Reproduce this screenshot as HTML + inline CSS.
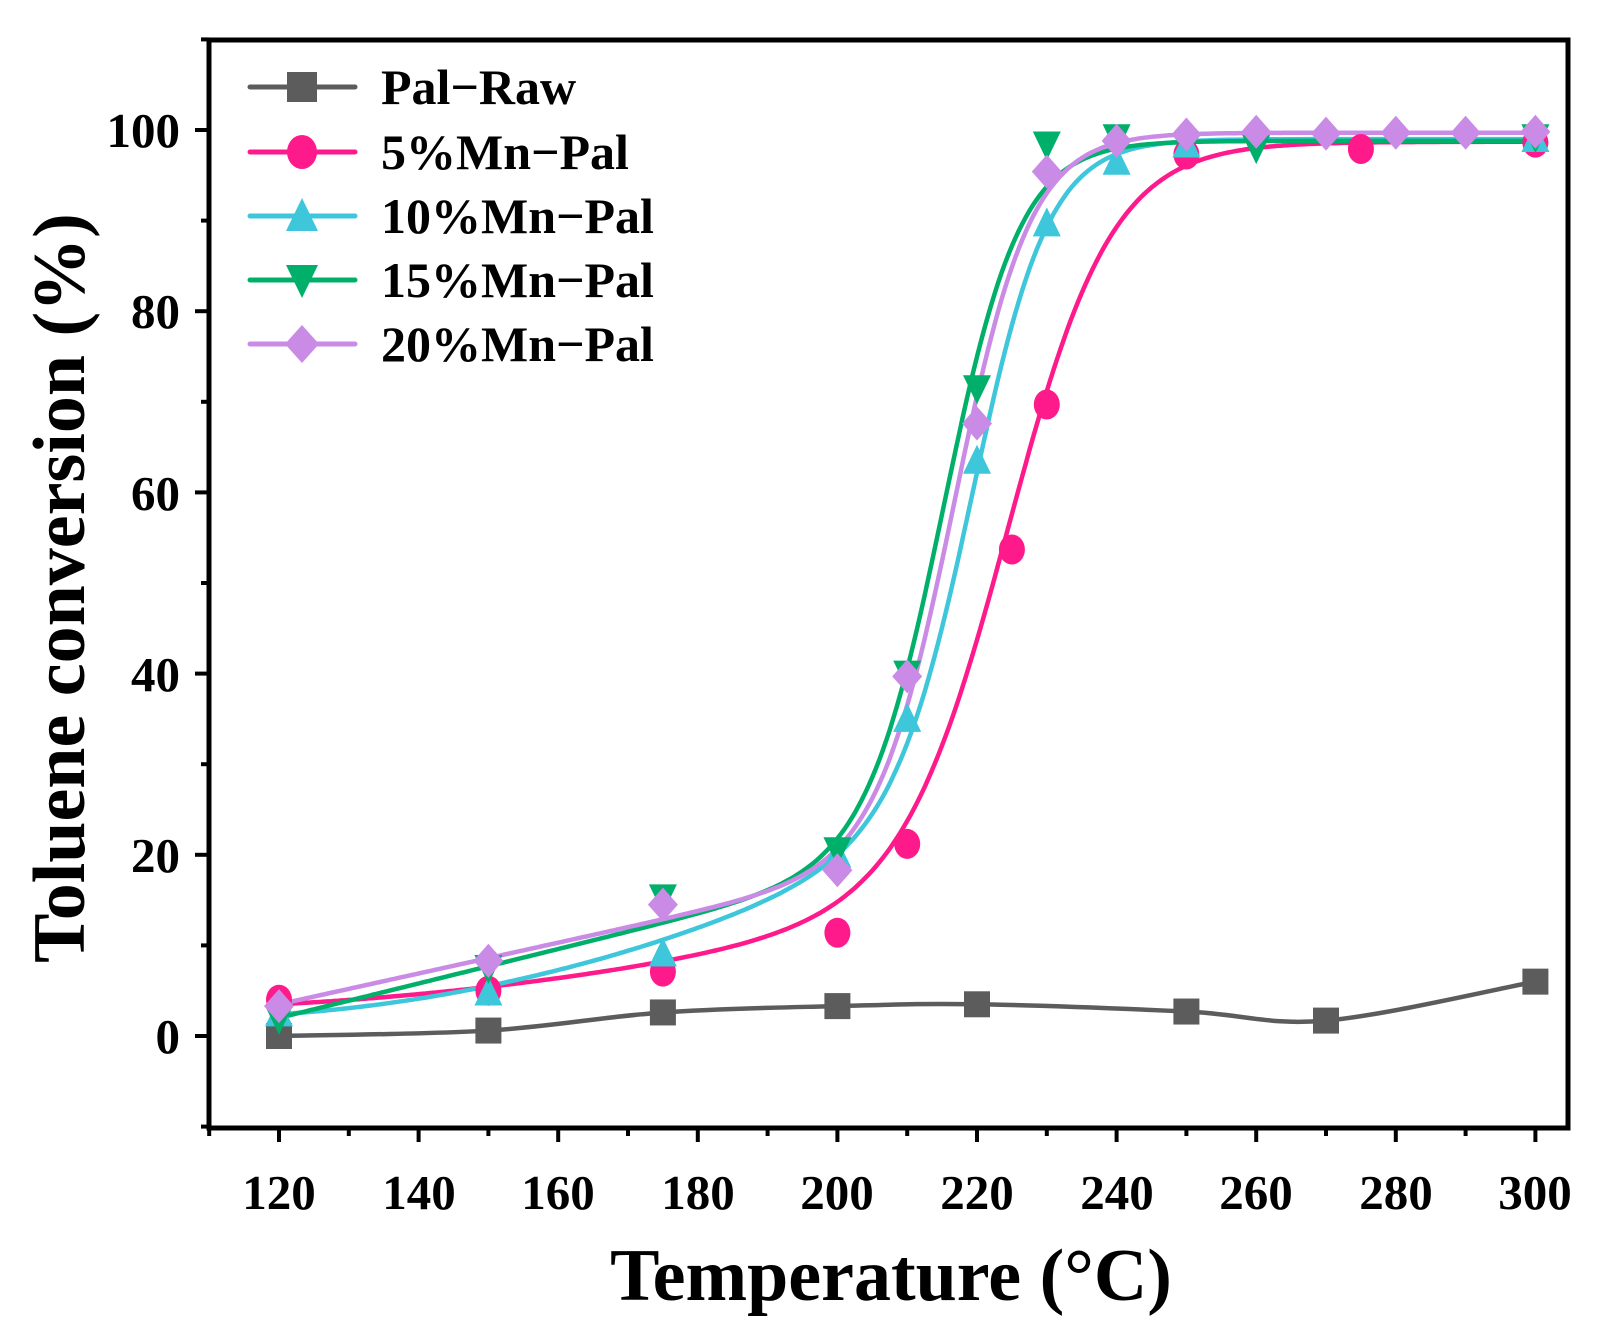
<!DOCTYPE html>
<html><head><meta charset="utf-8"><style>
html,body{margin:0;padding:0;background:#fff}
svg{display:block}
text{font-family:"Liberation Serif","Times New Roman",serif;font-weight:bold;fill:#000}
</style></head><body>
<svg id="s" width="1612" height="1332" viewBox="0 0 1612 1332" xmlns="http://www.w3.org/2000/svg">
<g id="curves"></g>
<g id="marks"></g>
<rect x="209" y="40" width="1359" height="1088" fill="none" stroke="#000" stroke-width="5"/>
<g id="ticks" stroke="#000" stroke-width="4"></g>
<g font-size="49" text-anchor="end">
<text x="180" y="1053">0</text><text x="180" y="872">20</text><text x="180" y="691">40</text>
<text x="180" y="510">60</text><text x="180" y="328">80</text><text x="180" y="147">100</text>
</g>
<g font-size="49" text-anchor="middle">
<text x="279" y="1209">120</text><text x="419" y="1209">140</text><text x="558" y="1209">160</text>
<text x="698" y="1209">180</text><text x="837" y="1209">200</text><text x="977" y="1209">220</text>
<text x="1117" y="1209">240</text><text x="1256" y="1209">260</text><text x="1396" y="1209">280</text>
<text x="1535" y="1209">300</text>
</g>
<text x="891" y="1300" font-size="74" text-anchor="middle">Temperature (°C)</text>
<text transform="translate(84,588) rotate(-90)" font-size="74" text-anchor="middle">Toluene conversion (%)</text>
<g id="legend" font-size="50"></g>
</svg>
<script>
const X=t=>279+(t-120)*6.98, Y=v=>1036-v*9.06;
const NS="http://www.w3.org/2000/svg";
function el(p,n,a){const e=document.createElementNS(NS,n);for(const k in a)e.setAttribute(k,a[k]);p.appendChild(e);return e;}
const tk=document.getElementById('ticks');
for(let v=-10;v<=110;v+=10){const maj=v%20==0;el(tk,'line',{x1:209,x2:209-(maj?14:8),y1:Y(v),y2:Y(v)});}
for(let t=110;t<=300;t+=10){const maj=t%20==0;el(tk,'line',{y1:1128,y2:1128+(maj?14:8),x1:X(t),x2:X(t)});}
const C={raw:'#5c5c5c',m5:'#ff1a8c',m10:'#3ec6da',m15:'#00b06a',m20:'#c98be6'};
function marker(g,type,x,y,c,s){s=s||14;
 if(type=='sq')el(g,'rect',{x:x-s+1,y:y-s+1,width:2*s-2,height:2*s-2,fill:c});
 else if(type=='ci')el(g,'ellipse',{cx:x,cy:y,rx:s-1,ry:s+1,fill:c});
 else if(type=='up')el(g,'polygon',{points:`${x},${y-s-2} ${x+s},${y+s-1} ${x-s},${y+s-1}`,fill:c});
 else if(type=='dn')el(g,'polygon',{points:`${x},${y+s+2} ${x+s},${y-s+1} ${x-s},${y-s+1}`,fill:c});
 else el(g,'polygon',{points:`${x},${y-s-3} ${x+s+1},${y} ${x},${y+s+3} ${x-s-1},${y}`,fill:c});}
const cg=document.getElementById('curves'),mg=document.getElementById('marks');
function sig(T0,w,top,base){return t=>{const f=1/(1+Math.exp(-(t-T0)/w));return base(t)*(1-f)+top*f;};}
function drawF(f,c){let d='';for(let t=120;t<=300;t+=0.5)d+=(d?'L':'M')+X(t).toFixed(1)+','+Y(f(t)).toFixed(1);el(cg,'path',{d,fill:'none',stroke:c,'stroke-width':4.5});}
const raw=[[120,0],[150,0.6],[175,2.6],[200,3.3],[220,3.5],[250,2.7],[270,1.7],[300,6.0]];
(function(){let p=raw.map(a=>[X(a[0]),Y(a[1])]);let d='M'+p[0];for(let i=0;i<p.length-1;i++){const p0=p[i-1]||p[i],p1=p[i],p2=p[i+1],p3=p[i+2]||p2;d+=`C${p1[0]+(p2[0]-p0[0])/6},${p1[1]+(p2[1]-p0[1])/6} ${p2[0]-(p3[0]-p1[0])/6},${p2[1]-(p3[1]-p1[1])/6} ${p2[0]},${p2[1]}`;}el(cg,'path',{d,fill:'none',stroke:C.raw,'stroke-width':4.5});})();
drawF(sig(225,7.5,98.7,t=>3.5+0.04*(t-120)+0.0008*(t-120)**2),C.m5);
drawF(sig(220,5.5,99,t=>2.4+0.05*(t-120)+0.0018*(t-120)**2),C.m10);
drawF(sig(215.5,5.5,98.8,t=>2+0.19*(t-120)),C.m15);
drawF(sig(217,5.5,99.7,t=>3.5+0.17*(t-120)),C.m20);
const D={
raw:['sq',raw],
m5:['ci',[[120,4],[150,5],[175,7.1],[200,11.4],[210,21.2],[225,53.7],[230,69.7],[250,97.3],[275,97.9],[300,98.6]]],
m10:['up',[[120,2.5],[150,4.8],[175,9.1],[200,20],[210,35],[220,63.5],[230,89.7],[240,96.5],[250,98.4],[300,99]]],
m15:['dn',[[120,1.9],[150,7.5],[175,15.3],[200,20.5],[210,40],[220,71.5],[230,98.4],[240,99.2],[260,98],[300,99.2]]],
m20:['di',[[120,3.3],[150,8.3],[175,14.5],[200,18.3],[210,39.7],[220,67.6],[230,95.4],[240,98.8],[250,99.5],[260,99.8],[270,99.6],[280,99.7],[290,99.7],[300,99.8]]]};
for(const k in D)for(const p of D[k][1])marker(mg,D[k][0],X(p[0]),Y(p[1]),C[k]);
const lg=document.getElementById('legend');
const L=[['raw','Pal−Raw',87],['m5','5%Mn−Pal',152],['m10','10%Mn−Pal',216],['m15','15%Mn−Pal',280],['m20','20%Mn−Pal',344]];
for(const [k,t,y] of L){el(lg,'line',{x1:250,x2:355,y1:y,y2:y,stroke:C[k],'stroke-width':5,'stroke-linecap':'round'});marker(lg,D[k][0],302,y,C[k],16);const tx=el(lg,'text',{x:381,y:y+17});tx.textContent=t;}
</script>
</body></html>
